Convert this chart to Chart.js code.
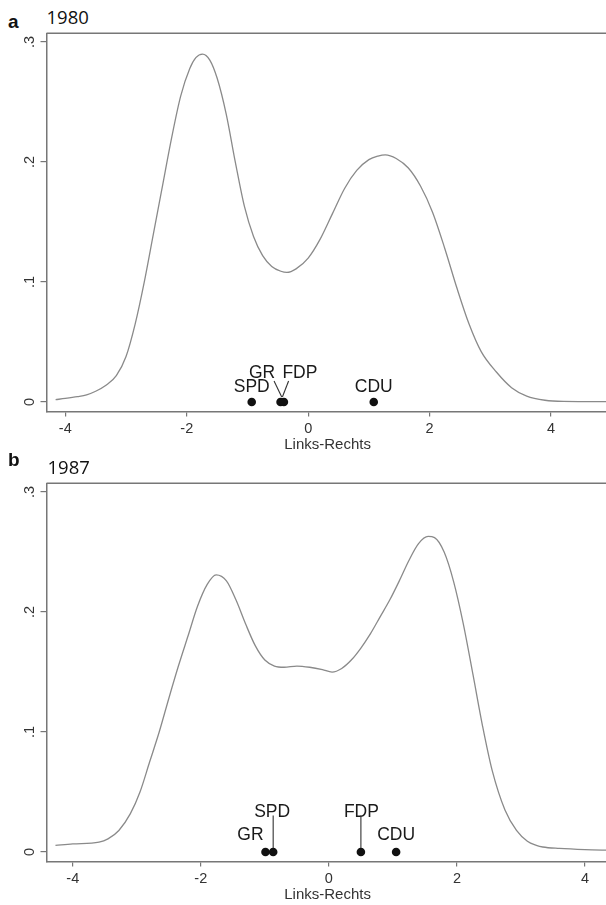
<!DOCTYPE html>
<html>
<head>
<meta charset="utf-8">
<script src="https://cdn.jsdelivr.net/npm/chart.js@4.4.1/dist/chart.umd.min.js"></script>
<style>
html, body { margin: 0; padding: 0; background: #fff; width: 606px; height: 905px; overflow: hidden; position: relative; }
canvas { position: absolute; left: 0; }
.lbl { position: absolute; line-height: 1; white-space: nowrap; color: #111; }
.letter { font: bold 19px "Liberation Sans", Arial, sans-serif; }
.year { font: 18.5px "Open Sans", sans-serif; }
</style>
</head>
<body>
<div class="lbl letter" style="left:8px;top:10.6px">a</div>
<div class="lbl year" style="left:46.5px;top:4.3px">1980</div>
<canvas id="c1980" width="613" height="455" style="top:0"></canvas>
<div class="lbl letter" style="left:8px;top:449px">b</div>
<div class="lbl year" style="left:47.5px;top:454.3px">1987</div>
<canvas id="c1987" width="613" height="455" style="top:450px"></canvas>
<script>
const xTicks = [-4, -2, 0, 2, 4];
const yTicks = [0, 0.1, 0.2, 0.3];

// Dichte 1980
const dens1980X = [-4.16, -4.0, -3.8, -3.65, -3.5, -3.33, -3.16, -3.0, -2.85, -2.7, -2.55, -2.4, -2.25, -2.1, -1.95, -1.85, -1.74, -1.62, -1.5, -1.35, -1.2, -1.05, -0.9, -0.75, -0.6, -0.45, -0.35, -0.2, 0.0, 0.2, 0.4, 0.6, 0.8, 1.0, 1.15, 1.27, 1.45, 1.65, 1.85, 2.05, 2.25, 2.45, 2.65, 2.85, 3.1, 3.35, 3.6, 3.9, 4.2, 4.95];
const dens1980Y = [0.002, 0.003, 0.0045, 0.006, 0.009, 0.014, 0.022, 0.038, 0.065, 0.1, 0.14, 0.18, 0.22, 0.255, 0.278, 0.287, 0.29, 0.285, 0.27, 0.24, 0.2, 0.163, 0.138, 0.122, 0.113, 0.109, 0.108, 0.111, 0.12, 0.136, 0.157, 0.178, 0.193, 0.202, 0.205, 0.206, 0.203, 0.195, 0.18, 0.158, 0.128, 0.095, 0.065, 0.042, 0.025, 0.012, 0.005, 0.0015, 0.0005, 0.0003];
const parties1980 = ['SPD', 'GR', 'FDP', 'CDU'];
const pos1980 = [-0.93, -0.455, -0.40, 1.08];

// Dichte 1987
const dens1987X = [-4.27, -4.0, -3.59, -3.45, -3.28, -3.1, -2.95, -2.8, -2.65, -2.5, -2.35, -2.2, -2.05, -1.9, -1.76, -1.6, -1.45, -1.3, -1.15, -1.0, -0.85, -0.7, -0.5, -0.3, -0.1, 0.05, 0.2, 0.35, 0.5, 0.65, 0.8, 0.95, 1.1, 1.25, 1.4, 1.55, 1.65, 1.8, 1.95, 2.1, 2.25, 2.4, 2.55, 2.75, 2.93, 3.1, 3.24, 3.34, 3.6, 4.0, 4.4];
const dens1987Y = [0.0056, 0.0068, 0.0083, 0.011, 0.018, 0.032, 0.05, 0.075, 0.1, 0.128, 0.155, 0.18, 0.205, 0.223, 0.231, 0.226, 0.21, 0.19, 0.172, 0.16, 0.155, 0.154, 0.155, 0.154, 0.152, 0.15, 0.153, 0.16, 0.17, 0.182, 0.196, 0.21, 0.226, 0.243, 0.257, 0.263, 0.262, 0.25, 0.225, 0.19, 0.148, 0.105, 0.068, 0.035, 0.018, 0.009, 0.0056, 0.0042, 0.003, 0.002, 0.0015];
const parties1987 = ['GR', 'SPD', 'FDP', 'CDU'];
const pos1987 = [-0.99, -0.87, 0.50, 1.05];

// Beschriftung relativ zum Punkt (px), leader = Verbindungslinie
const place1980 = [
    { dx: 0, dy: -10.5 },
    { dx: -18.5, dy: -24, leader: [-6.5, -21, 1.2, -5] },
    { dx: 16, dy: -24, leader: [4.7, -21, -1.5, -5] },
    { dx: 0, dy: -10.5 }
];
const place1987 = [
    { dx: -15, dy: -11.7 },
    { dx: -1, dy: -35, leader: [0, -36.5, 0, -4] },
    { dx: 0.5, dy: -35, leader: [0, -36.5, 0, -4] },
    { dx: 0, dy: -11.7 }
];

const SANS = '"Liberation Sans", Arial, Helvetica, sans-serif';
const AXIS = '#777';
const TEXT = '#333';

const fmtY = v => v === 0 ? '0' : v.toFixed(1).replace(/^0/, '');

const decor = {
    id: 'decor',
    afterDraw(chart, args, opts) {
        const { ctx, chartArea: a, scales: { x, y } } = chart;
        ctx.save();
        // obere Rahmenlinie
        ctx.strokeStyle = AXIS;
        ctx.lineWidth = 1.5;
        ctx.beginPath();
        ctx.moveTo(a.left, a.top);
        ctx.lineTo(a.right, a.top);
        ctx.stroke();

        // gedrehte y-Beschriftung
        ctx.fillStyle = TEXT;
        ctx.font = '14.5px ' + SANS;
        ctx.textAlign = 'center';
        ctx.textBaseline = 'alphabetic';
        y.ticks.forEach(t => {
            ctx.save();
            ctx.translate(a.left - 13, y.getPixelForValue(t.value));
            ctx.rotate(-Math.PI / 2);
            ctx.fillText(fmtY(t.value), 0, 0);
            ctx.restore();
        });

        // Parteien
        ctx.font = '17.5px ' + SANS;
        ctx.fillStyle = '#1a1a1a';
        ctx.strokeStyle = '#333';
        ctx.lineWidth = 1.1;
        opts.names.forEach((name, i) => {
            const px = x.getPixelForValue(opts.pos[i]);
            const py = y.getPixelForValue(0);
            const p = opts.place[i];
            ctx.fillText(name, px + p.dx, py + p.dy);
            if (p.leader) {
                ctx.beginPath();
                ctx.moveTo(px + p.leader[0], py + p.leader[1]);
                ctx.lineTo(px + p.leader[2], py + p.leader[3]);
                ctx.stroke();
            }
        });
        ctx.restore();
    }
};

function makePanel(id, densX, densY, names, pos, place, xMin, xMax) {
    const ctx = document.getElementById(id).getContext('2d');
    return new Chart(ctx, {
        type: 'line',
        data: {
            datasets: [{
                data: densX.map((v, i) => ({ x: v, y: densY[i] })),
                borderColor: '#8a8a8a',
                borderWidth: 1.3,
                pointRadius: 0,
                cubicInterpolationMode: 'monotone',
                fill: false
            }, {
                type: 'scatter',
                data: pos.map(v => ({ x: v, y: 0 })),
                pointRadius: 4.3,
                backgroundColor: '#111',
                borderWidth: 0
            }]
        },
        options: {
            responsive: false,
            animation: false,
            events: [],
            layout: { padding: { top: 33.3, left: 0, right: 0, bottom: 0 } },
            plugins: {
                legend: { display: false },
                tooltip: { enabled: false },
                decor: { names, pos, place }
            },
            scales: {
                x: {
                    type: 'linear',
                    min: xMin,
                    max: xMax,
                    afterBuildTicks: s => { s.ticks = xTicks.map(v => ({ value: v })); },
                    afterFit: s => { s.height = 43; s.paddingLeft = 0; s.paddingRight = 0; },
                    grid: { display: true, drawOnChartArea: false, drawTicks: true, tickLength: 4.5, color: AXIS, lineWidth: 1.2 },
                    border: { display: true, color: AXIS, width: 1.5 },
                    ticks: { color: TEXT, font: { family: SANS, size: 14.5 }, padding: 4, maxRotation: 0, callback: v => String(v) },
                    title: { display: true, text: 'Links-Rechts', color: TEXT, font: { family: SANS, size: 15 }, padding: { top: 0, bottom: 1 } }
                },
                y: {
                    type: 'linear',
                    min: -0.0083,
                    max: 0.3073,
                    afterBuildTicks: s => { s.ticks = yTicks.map(v => ({ value: v })); },
                    afterFit: s => { s.width = 46.5; },
                    grid: { display: true, drawOnChartArea: false, drawTicks: true, tickLength: 6, color: AXIS, lineWidth: 1.2 },
                    border: { display: true, color: AXIS, width: 1.5 },
                    ticks: { display: false }
                }
            }
        },
        plugins: [decor]
    });
}

makePanel('c1980', dens1980X, dens1980Y, parties1980, pos1980, place1980, -4.31, 4.95);
makePanel('c1987', dens1987X, dens1987Y, parties1987, pos1987, place1987, -4.41, 4.37);
</script>
</body>
</html>
